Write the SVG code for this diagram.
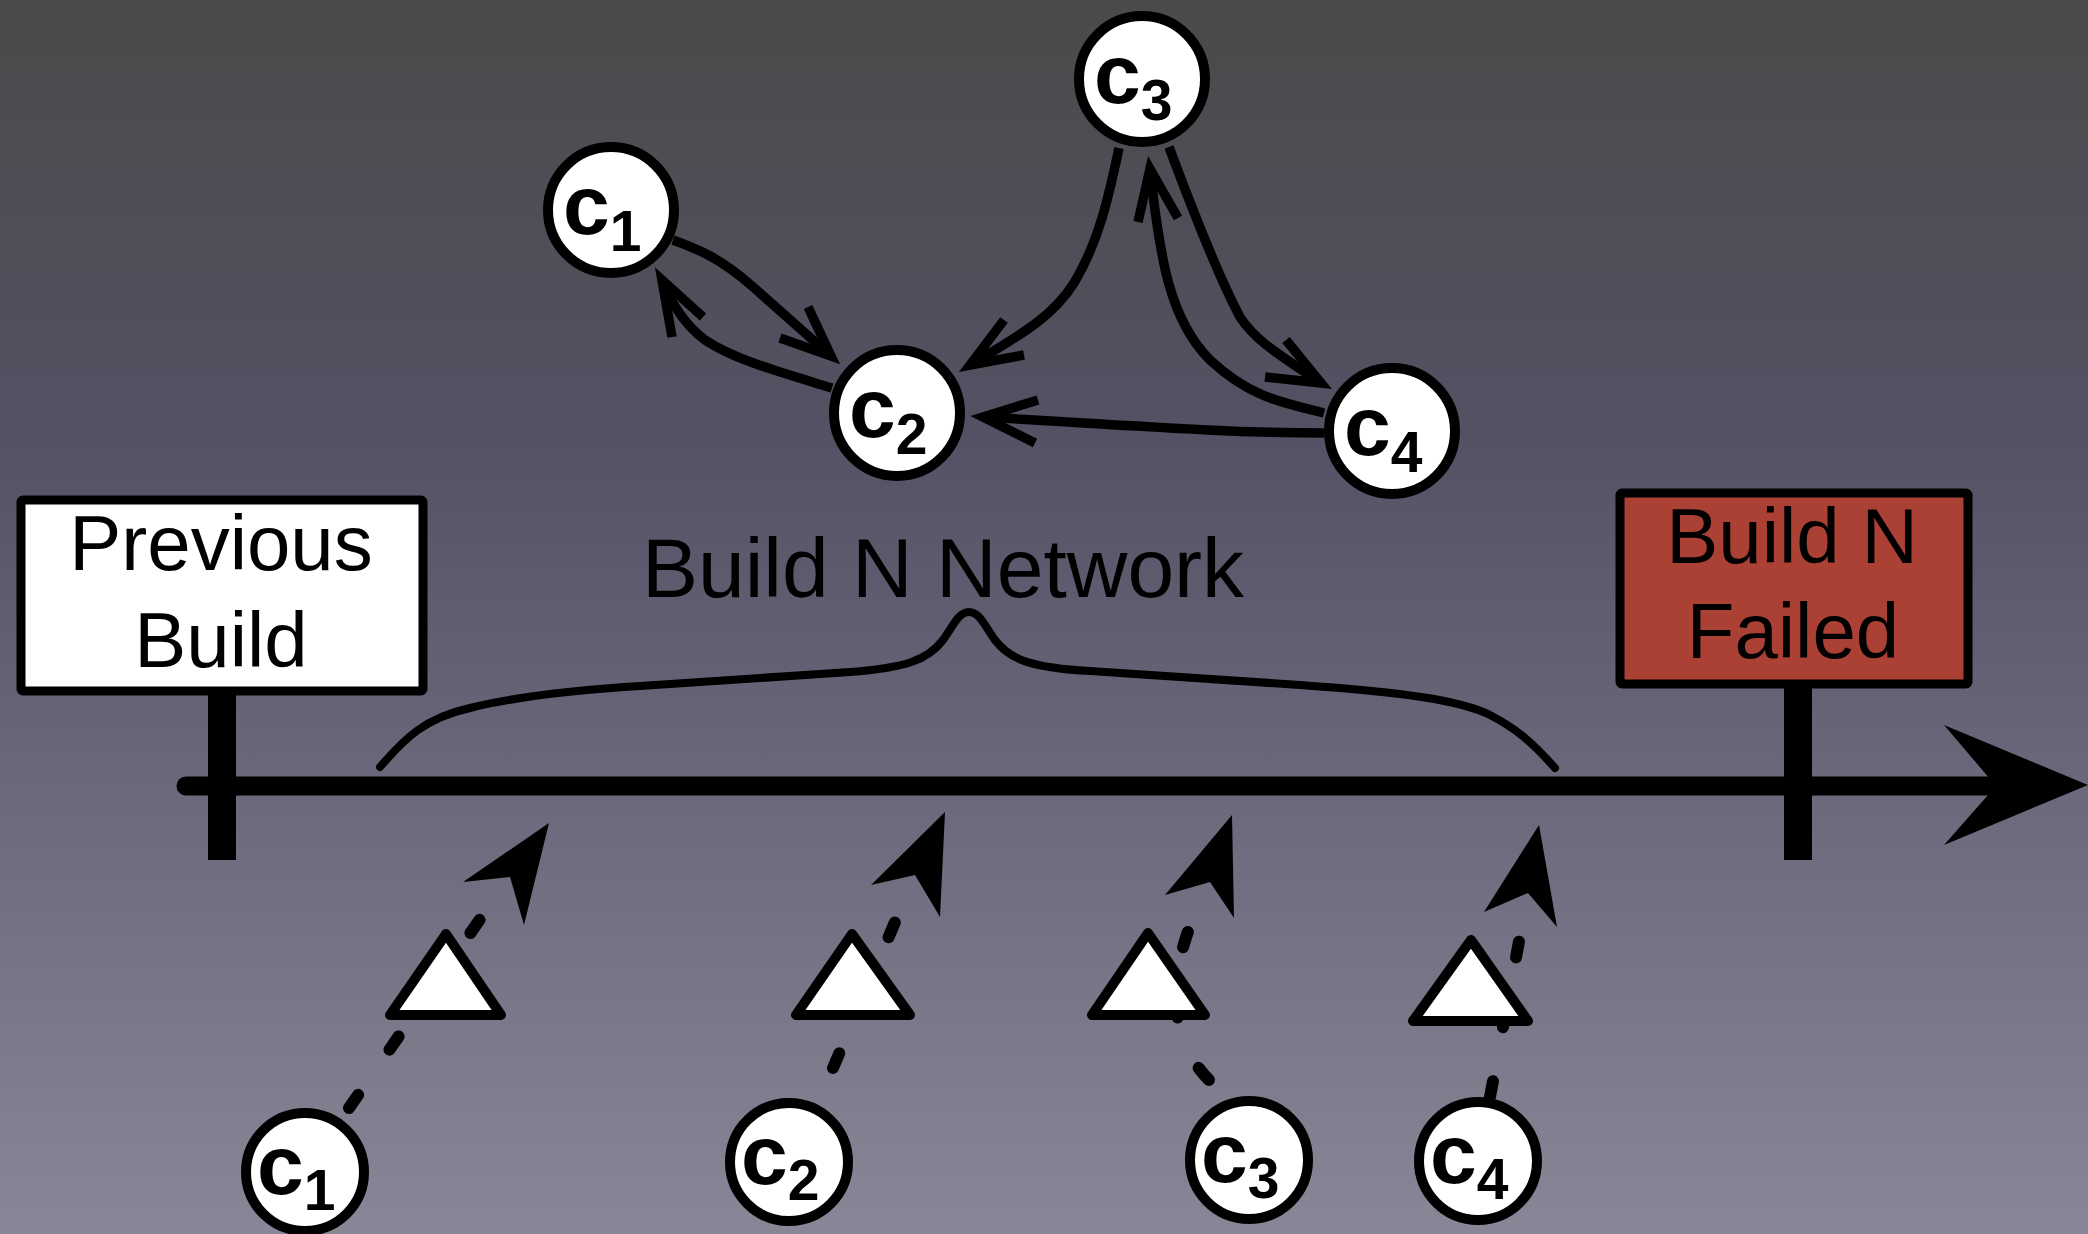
<svg xmlns="http://www.w3.org/2000/svg" width="2088" height="1234" viewBox="0 0 2088 1234">
<defs>
<linearGradient id="bg" x1="0" y1="0" x2="0" y2="1">
<stop offset="0" stop-color="#4a4a4a"/>
<stop offset="0.35" stop-color="#525264"/>
<stop offset="0.7" stop-color="#6e6e80"/>
<stop offset="1" stop-color="#878797"/>
</linearGradient>
<style>
.edge{fill:none;stroke:#000;stroke-width:9.5;stroke-linecap:butt}
.head{fill:none;stroke:#000;stroke-width:9.5;stroke-linejoin:miter;stroke-miterlimit:10;stroke-linecap:butt}
.dash{fill:none;stroke:#000;stroke-width:12;stroke-linecap:round;stroke-dasharray:16 55}
.fhead{fill:#000;stroke:none}
.node{fill:#fff;stroke:#000;stroke-width:10}
.tri{fill:#fff;stroke:#000;stroke-width:10;stroke-linejoin:round}
.lbl{font-family:"Liberation Sans",Arial,Helvetica,sans-serif;font-weight:bold;font-size:84px;fill:#000}
.sub{font-size:57px}
.box{font-family:"Liberation Sans",Arial,Helvetica,sans-serif;font-size:78px;fill:#000;text-anchor:middle}
</style>
</defs>
<rect x="0" y="0" width="2088" height="1234" fill="url(#bg)"/>

<g id="timeline">
<line x1="186" y1="786" x2="2000" y2="786" stroke="#000" stroke-width="19" stroke-linecap="round"/>
<polygon points="2088,785 1944,725 1996,786 1944,845" fill="#000"/>
</g>

<g id="previous-build">
<rect x="208" y="692" width="28" height="168" fill="#000"/>
<rect x="21" y="500" width="402" height="191" rx="2" fill="#fff" stroke="#000" stroke-width="9"/>
<text class="box" x="221" y="570">Previous</text>
<text class="box" x="221" y="667">Build</text>
</g>

<g id="build-n-failed">
<rect x="1784" y="686" width="28" height="174" fill="#000"/>
<rect x="1620" y="493" width="348" height="191" rx="2" fill="#ab4034" stroke="#000" stroke-width="9"/>
<text class="box" x="1792" y="563">Build N</text>
<text class="box" x="1793" y="658">Failed</text>
</g>

<g id="network-brace">
<path d="M380,767 C405,738 425,718 470,708 C510,698 560,691 640,686 L850,672 C905,668 928,660 943,640 C952,628 958,612 969,612 C980,612 986,628 995,640 C1010,660 1033,668 1090,671 L1300,685 C1400,692 1460,700 1490,715 C1515,728 1530,740 1555,768" fill="none" stroke="#000" stroke-width="8" stroke-linecap="round"/>
<text x="943" y="597" font-family="'Liberation Sans',Arial,Helvetica,sans-serif" font-size="84" text-anchor="middle" fill="#000">Build N Network</text>
</g>

<g id="connectors">
<path class="edge" d="M673,240 C700,250 720,258 752,286 L831,356"/>
<polyline class="head" points="808,307 831,356 780,338"/>
<path class="edge" d="M832,388 C780,372 735,360 705,340 C685,325 672,305 662,280"/>
<polyline class="head" points="672,337 662,280 703,317"/>
<path class="edge" d="M1119,148 C1110,190 1100,240 1074,283 C1055,313 1030,330 970,365"/>
<polyline class="head" points="1004,320 970,365 1024,355"/>
<path class="edge" d="M1324,433 C1250,433 1200,430 983,417"/>
<polyline class="head" points="1038,400 983,417 1035,443"/>
<path class="edge" d="M1169,147 C1185,190 1215,270 1240,317 C1255,340 1275,352 1321,383"/>
<polyline class="head" points="1286,340 1321,383 1265,377"/>
<path class="edge" d="M1324,413 C1280,402 1250,397 1210,360 C1170,320 1160,260 1150,169"/>
<polyline class="head" points="1138,222 1150,169 1178,218"/>

<path class="dash" d="M349,1108 L510,876"/>
<polygon class="fhead" points="549,823 463,882 510,877 524,925"/>
<path class="dash" d="M833,1068 L915,875"/>
<polygon class="fhead" points="945,812 871,885 915,875 940,917"/>
<path class="dash" d="M1209,1080 C1170,1040 1160,975 1210,882"/>
<polygon class="fhead" points="1232,815 1165,895 1210,882 1234,918"/>
<path class="dash" d="M1490,1097 L1528,893"/>
<polygon class="fhead" points="1539,825 1484,912 1528,893 1557,927"/>
</g>

<g id="node-c1">
<circle class="node" cx="611" cy="210" r="63"/>
<text class="lbl" x="563" y="234">c<tspan class="sub" dy="17">1</tspan></text>
</g>
<g id="node-c2">
<circle class="node" cx="897" cy="413" r="63"/>
<text class="lbl" x="849" y="437">c<tspan class="sub" dy="17">2</tspan></text>
</g>
<g id="node-c3">
<circle class="node" cx="1142" cy="79" r="63"/>
<text class="lbl" x="1094" y="103">c<tspan class="sub" dy="17">3</tspan></text>
</g>
<g id="node-c4">
<circle class="node" cx="1392" cy="431" r="63"/>
<text class="lbl" x="1344" y="455">c<tspan class="sub" dy="17">4</tspan></text>
</g>

<g id="tri-1"><polygon class="tri" points="446,934 390,1015 501,1015"/></g>
<g id="tri-2"><polygon class="tri" points="852,934 796,1015 910,1015"/></g>
<g id="tri-3"><polygon class="tri" points="1148,933 1092,1015 1205,1015"/></g>
<g id="tri-4"><polygon class="tri" points="1471,940 1413,1021 1528,1021"/></g>

<g id="commit-c1">
<circle class="node" cx="305" cy="1172" r="59"/>
<text class="lbl" x="257" y="1194">c<tspan class="sub" dy="16">1</tspan></text>
</g>
<g id="commit-c2">
<circle class="node" cx="789" cy="1162" r="59"/>
<text class="lbl" x="741" y="1184">c<tspan class="sub" dy="16">2</tspan></text>
</g>
<g id="commit-c3">
<circle class="node" cx="1249" cy="1160" r="59"/>
<text class="lbl" x="1201" y="1182">c<tspan class="sub" dy="16">3</tspan></text>
</g>
<g id="commit-c4">
<circle class="node" cx="1478" cy="1161" r="59"/>
<text class="lbl" x="1430" y="1183">c<tspan class="sub" dy="16">4</tspan></text>
</g>
</svg>
